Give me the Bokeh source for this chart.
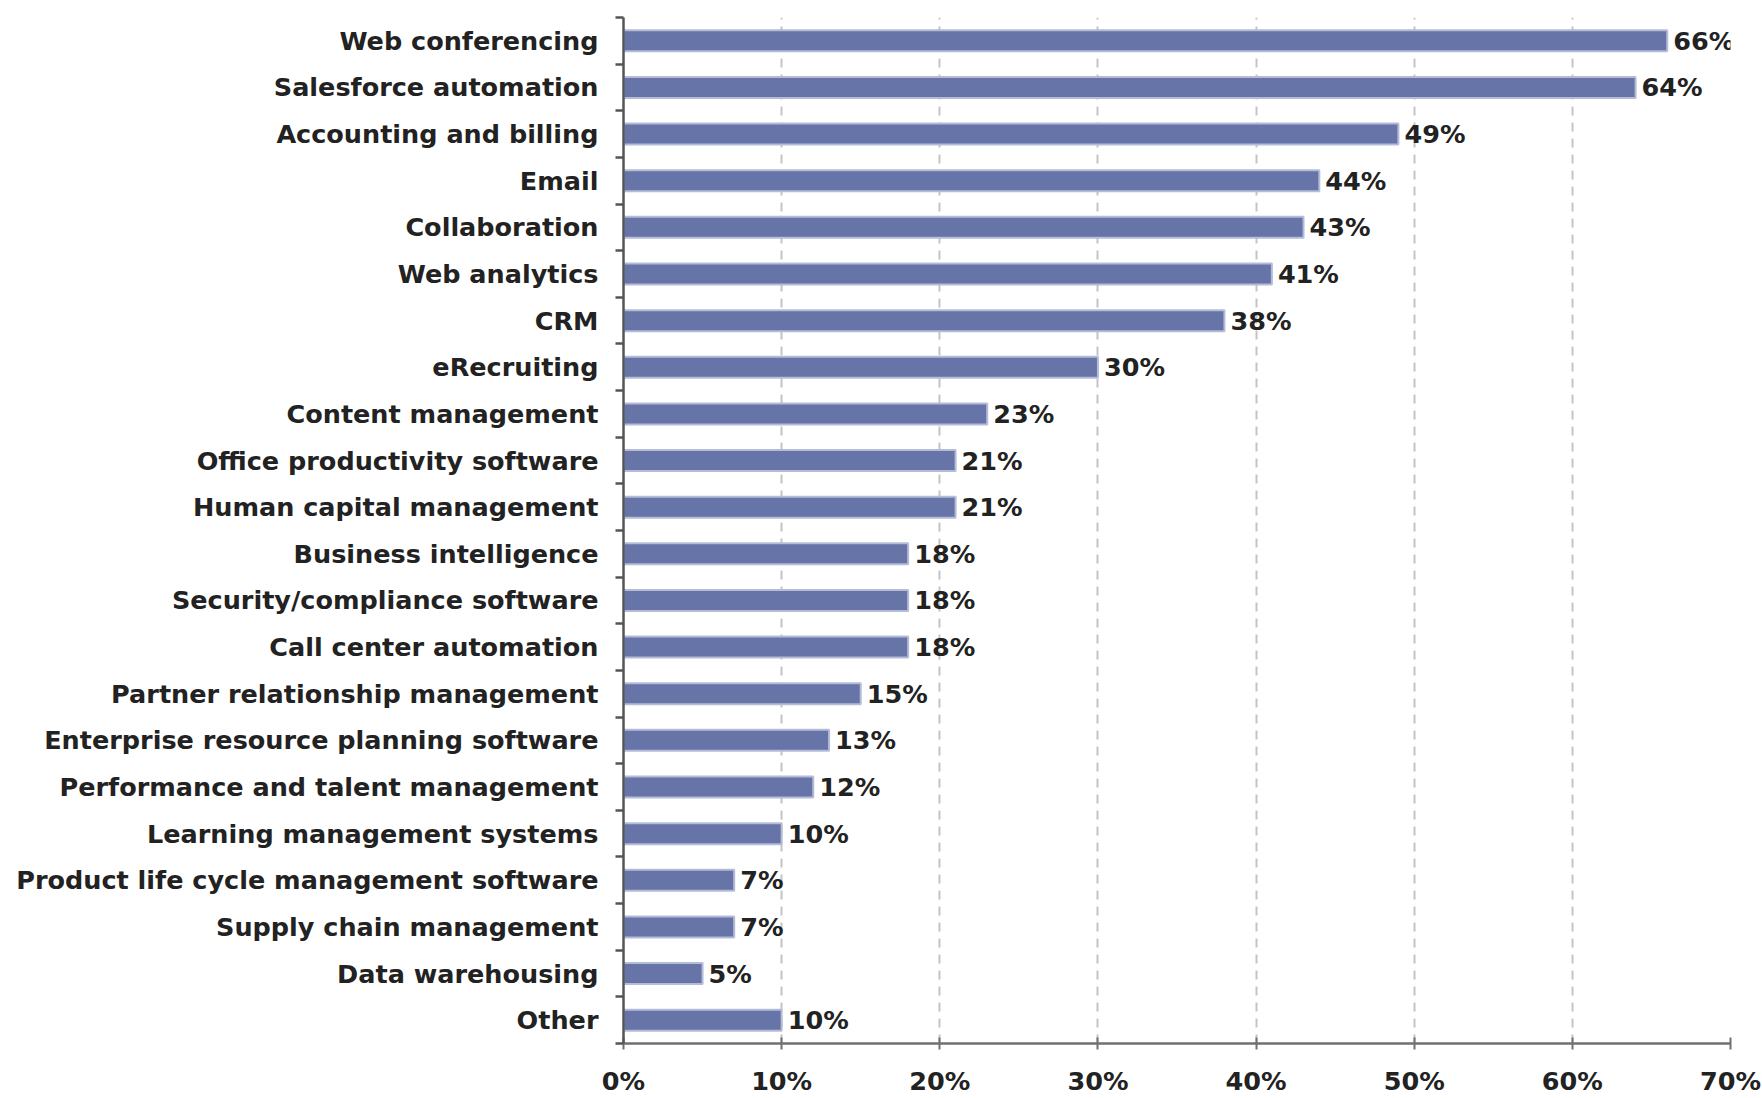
from bokeh.plotting import figure
from bokeh.models import Range1d, FixedTicker, PrintfTickFormatter, ColumnDataSource, LabelSet
from bokeh.core.properties import value
from bokeh.embed import file_html
from bokeh.resources import INLINE

categories = [
    "Web conferencing", "Salesforce automation", "Accounting and billing", "Email",
    "Collaboration", "Web analytics", "CRM", "eRecruiting", "Content management",
    "Office productivity software", "Human capital management", "Business intelligence",
    "Security/compliance software", "Call center automation",
    "Partner relationship management", "Enterprise resource planning software",
    "Performance and talent management", "Learning management systems",
    "Product life cycle management software", "Supply chain management",
    "Data warehousing", "Other",
]
percentages = [66, 64, 49, 44, 43, 41, 38, 30, 23, 21, 21, 18, 18, 18, 15, 13, 12, 10, 7, 7, 5, 10]
x_ticks = [0, 10, 20, 30, 40, 50, 60, 70]

n = len(categories)
ypos = [n - i - 0.5 for i in range(n)]
src = ColumnDataSource(dict(
    y=ypos, v=percentages, label=[f"{v}%" for v in percentages], cat=categories,
))

FONT = "DejaVu Sans"

p = figure(
    width=1762, height=1098,
    x_range=Range1d(0, 70), y_range=Range1d(0, n),
    output_backend="svg", toolbar_location=None,
    min_border_left=623, min_border_right=32, min_border_top=17, min_border_bottom=53,
)
p.outline_line_color = None
p.background_fill_color = "white"

p.hbar(y="y", right="v", left=0, height=0.45, source=src,
       fill_color="#6674a8", line_color="#b4bcd8", line_width=2)

labels = LabelSet(x="v", y="y", text="label", source=src, x_offset=6,
                  text_font=value(FONT), text_font_style=value("bold"),
                  text_font_size=value("25.5px"),
                  text_baseline=value("middle"), text_align=value("left"),
                  text_color=value("#222222"))
p.add_layout(labels)

# x axis
p.xaxis.ticker = FixedTicker(ticks=x_ticks)
p.xaxis.formatter = PrintfTickFormatter(format="%d%%")
p.xaxis.axis_line_color = "#707070"
p.xaxis.axis_line_width = 2.5
p.xaxis.major_tick_line_color = "#707070"
p.xaxis.major_tick_line_width = 2
p.xaxis.major_tick_in = 6
p.xaxis.major_tick_out = 6
p.xaxis.minor_tick_line_color = None
p.xaxis.major_label_standoff = 16
p.xaxis.major_label_text_font = FONT
p.xaxis.major_label_text_font_style = "bold"
p.xaxis.major_label_text_font_size = "25.5px"
p.xaxis.major_label_text_color = "#222222"

# y axis: labels at band centres, ticks at band boundaries
p.yaxis.ticker = FixedTicker(ticks=ypos, minor_ticks=list(range(n + 1)))
p.yaxis.major_label_overrides = {float(y): c for y, c in zip(ypos, categories)}
p.yaxis.major_tick_line_color = None
p.yaxis.minor_tick_line_color = "#555555"
p.yaxis.minor_tick_line_width = 2.5
p.yaxis.minor_tick_in = 0
p.yaxis.minor_tick_out = 8
p.yaxis.axis_line_color = "#555555"
p.yaxis.axis_line_width = 2.5
p.yaxis.major_label_standoff = 17
p.yaxis.major_label_text_font = FONT
p.yaxis.major_label_text_font_style = "bold"
p.yaxis.major_label_text_font_size = "25.5px"
p.yaxis.major_label_text_color = "#222222"

p.xgrid.ticker = FixedTicker(ticks=x_ticks)
p.xgrid.grid_line_color = "#c4c4c4"
p.xgrid.grid_line_width = 2
p.xgrid.grid_line_dash = "9 7"
p.ygrid.grid_line_color = None

open("out.html", "w").write(file_html(p, INLINE))
